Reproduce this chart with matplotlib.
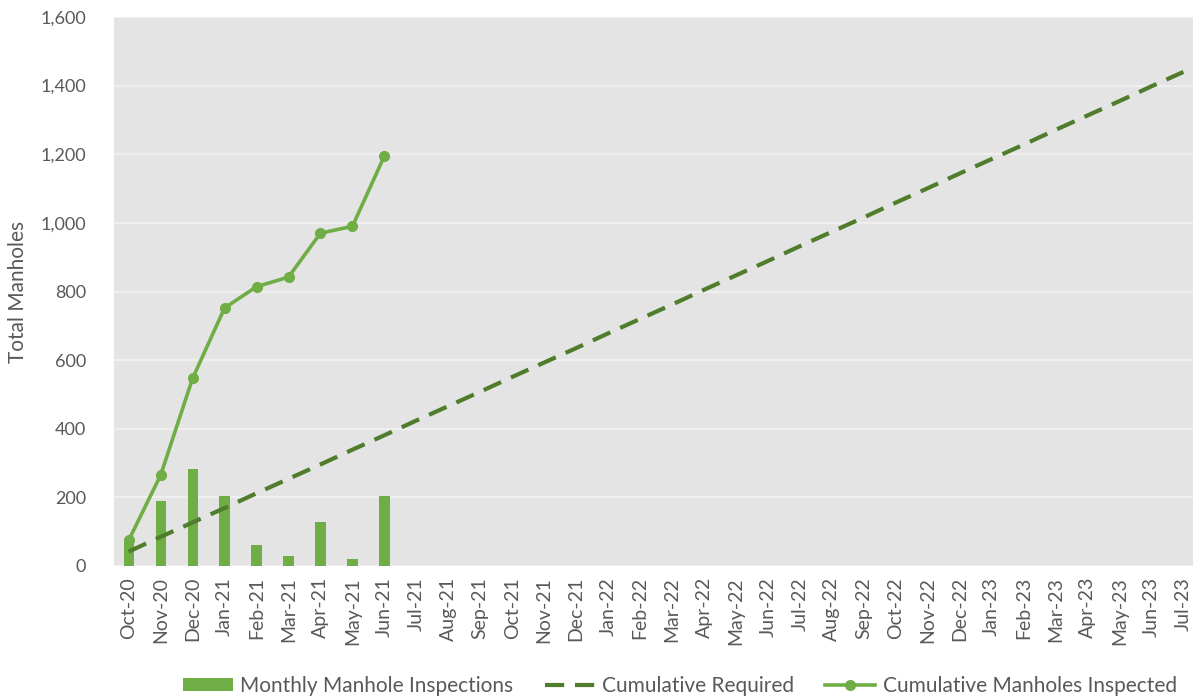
import matplotlib
matplotlib.use("Agg")
import matplotlib.pyplot as plt
import numpy as np

months = ["Oct-20", "Nov-20", "Dec-20", "Jan-21", "Feb-21", "Mar-21", "Apr-21",
          "May-21", "Jun-21", "Jul-21", "Aug-21", "Sep-21", "Oct-21", "Nov-21",
          "Dec-21", "Jan-22", "Feb-22", "Mar-22", "Apr-22", "May-22", "Jun-22",
          "Jul-22", "Aug-22", "Sep-22", "Oct-22", "Nov-22", "Dec-22", "Jan-23",
          "Feb-23", "Mar-23", "Apr-23", "May-23", "Jun-23", "Jul-23"]

monthly_inspections = [78, 190, 282, 205, 62, 28, 128, 20, 205]

cumulative_required = [42, 85, 127, 169, 212, 254, 296, 339, 381, 424, 466, 508,
                       551, 593, 635, 678, 720, 762, 805, 847, 889, 932, 974, 1016,
                       1059, 1101, 1144, 1186, 1228, 1271, 1313, 1355, 1398, 1440]

cumulative_inspected = [75, 265, 547, 752, 814, 842, 970, 990, 1195]

GREEN = "#6fad45"
DARK_GREEN = "#4f7d2c"
TEXT = "#595959"

plt.rcParams["font.family"] = ["Lato", "DejaVu Sans"]

W, H = 1193, 700
fig = plt.figure(figsize=(W / 100, H / 100), dpi=100)
ax_left, ax_right = 114, 1193
ax = fig.add_axes([ax_left / W, 1 - 566 / H, (ax_right - ax_left) / W, (566 - 17) / H])
ax.set_facecolor("#e4e4e4")

x = np.arange(len(months))

h_bar = ax.bar(x[:len(monthly_inspections)], monthly_inspections, width=0.32,
               color=GREEN, zorder=3, label="Monthly Manhole Inspections")
h_req, = ax.plot(x, cumulative_required, color=DARK_GREEN, lw=3.0,
                 dashes=(4.6, 2.6), zorder=4, label="Cumulative Required",
                 dash_capstyle="butt")
h_cum, = ax.plot(x[:len(cumulative_inspected)], cumulative_inspected, color=GREEN,
                 lw=2.6, marker="o", ms=7, zorder=5,
                 label="Cumulative Manholes Inspected")

ax.set_xlim(-0.46, 33.3)
ax.set_ylim(0, 1600)
ax.set_yticks(np.arange(0, 1601, 200))
ax.yaxis.set_major_formatter(matplotlib.ticker.FuncFormatter(lambda v, p: f"{int(v):,}"))
ax.set_xticks(x)
ax.set_xticklabels(months, rotation=90)
ax.grid(axis="y", color="#efefef", lw=1.6, zorder=0)
ax.set_axisbelow(True)
for s in ax.spines.values():
    s.set_visible(False)
ax.tick_params(axis="both", length=0, colors=TEXT)
ax.tick_params(axis="y", pad=20, labelsize=13)
ax.tick_params(axis="x", pad=8, labelsize=14)
ax.set_ylabel("Total Manholes", color=TEXT, fontsize=15)
ax.yaxis.set_label_coords((28 - ax_left) / (ax_right - ax_left), 0.5)

leg = fig.legend(handles=[h_bar, h_req, h_cum],
                 loc="center", bbox_to_anchor=(680 / W, 1 - 686 / H), ncol=3,
                 frameon=False, fontsize=15, handlelength=2.4, handleheight=0.6,
                 columnspacing=1.5, handletextpad=0.35)
for t in leg.get_texts():
    t.set_color(TEXT)

fig.savefig("out.png", dpi=100)
